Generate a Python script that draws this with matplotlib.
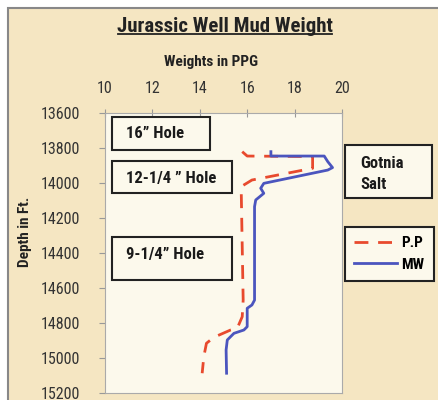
import matplotlib
matplotlib.use("Agg")
import matplotlib.pyplot as plt
from matplotlib.lines import Line2D
from matplotlib.patches import Rectangle

# depth in ft, weight in ppg
mw_depth = [13821, 13846, 13846, 13878, 13912, 13926, 14002, 14030, 14059, 14097, 14135,
            14669, 14697, 14716, 14821, 14840, 14859, 14897, 14954, 15087]
mw_ppg = [17.0, 17.0, 19.25, 19.4, 19.6, 19.4, 16.7, 16.57, 16.7, 16.36, 16.31,
          16.31, 16.2, 16.0, 16.0, 15.86, 15.44, 15.16, 15.11, 15.13]

pp_depth = [13821, 13846, 13849, 13916, 13983, 14017, 14059, 14669, 14764, 14830, 14840,
            14882, 14916, 14992, 15087]
pp_ppg = [15.79, 16.0, 18.76, 18.76, 16.2, 15.79, 15.75, 15.83, 15.79, 15.58, 15.3,
          14.59, 14.28, 14.17, 14.1]

x_ticks = [10, 12, 14, 16, 18, 20]
y_ticks = [13600, 13800, 14000, 14200, 14400, 14600, 14800, 15000, 15200]

FONT = ["Roboto Condensed", "DejaVu Sans"]
plt.rcParams["font.family"] = FONT

W, H = 438, 400
OUTER = "#F5E6C2"
INNER = "#FCF9EC"
RED = "#E84A2E"
BLUE = "#4B55BE"

def fx(px): return px / W
def fy(py): return 1 - py / H

fig = plt.figure(figsize=(W / 100, H / 100), dpi=100, facecolor="white")
# framed background
fig.patches.append(Rectangle((fx(8), -0.01), 1, fy(8) + 0.01, transform=fig.transFigure,
                             facecolor=OUTER, edgecolor="#888888", lw=1.5, zorder=-10))

ax = fig.add_axes([fx(105), fy(393), fx(342) - fx(105), fy(113) - fy(393)])
ax.set_facecolor(INNER)
ax.plot(pp_ppg, pp_depth, color=RED, lw=2, dashes=(5, 3.5))
ax.plot(mw_ppg, mw_depth, color=BLUE, lw=2)
ax.set_xlim(10, 20)
ax.set_ylim(15200, 13600)
ax.set_xticks(x_ticks)
ax.set_yticks(y_ticks)
ax.xaxis.tick_top()
ax.tick_params(axis="x", direction="inout", length=6, pad=9, labelsize=11.5, colors="#999999", labelcolor="#333333")
ax.tick_params(axis="y", direction="out", length=4, pad=14, labelsize=11.5, colors="#999999", labelcolor="#333333")
for s in ax.spines.values():
    s.set_color("#aaaaaa")

# titles
fig.text(fx(225), fy(26), "Jurassic Well Mud Weight", ha="center", va="center",
         fontsize=15, fontweight="bold", color="#222222")
fig.lines.append(Line2D([fx(118), fx(332)], [fy(34), fy(34)], transform=fig.transFigure,
                        color="#222222", lw=1.3))
fig.text(fx(211), fy(62), "Weights in PPG", ha="center", va="center",
         fontsize=11, fontweight="bold", color="#222222")
fig.text(fx(25), fy(232), "Depth in Ft.", ha="center", va="center", rotation=90,
         fontsize=11, fontweight="bold", color="#222222")

# hole boxes
def box(x0, y0, x1, y1, txt, tx, ty):
    fig.patches.append(Rectangle((fx(x0), fy(y1)), fx(x1) - fx(x0), fy(y0) - fy(y1),
                                 transform=fig.transFigure, facecolor=INNER,
                                 edgecolor="#222222", lw=1.5, zorder=3))
    fig.text(fx(tx), fy(ty), txt, ha="left", va="center", fontsize=12,
             fontweight="bold", color="#1a1a1a", zorder=4, linespacing=1.45)

box(112, 117, 210, 150, "16\u201d Hole", 126, 134)
box(112, 161, 232, 193, "12-1/4 \u201d Hole", 126, 178)
box(112, 237, 232, 280, "9-1/4\u201d Hole", 126, 255)
box(345, 145, 432, 198, "Gotnia\nSalt", 360, 174)

leg = fig.legend([Line2D([], [], color=RED, lw=2, dashes=(5, 3.5)),
                  Line2D([], [], color=BLUE, lw=2)], ["P.P", "MW"],
                 loc="upper left", bbox_to_anchor=(fx(345), fy(227)),
                 frameon=True, fancybox=False, edgecolor="#222222", facecolor=INNER,
                 framealpha=1, handlelength=2.8, handletextpad=0.3, borderpad=0.6,
                 borderaxespad=0, labelspacing=0.5,
                 prop={"family": FONT, "size": 11, "weight": "bold"})
leg.get_frame().set_linewidth(1.5)

fig.savefig("out.png", dpi=100, facecolor=fig.get_facecolor())
